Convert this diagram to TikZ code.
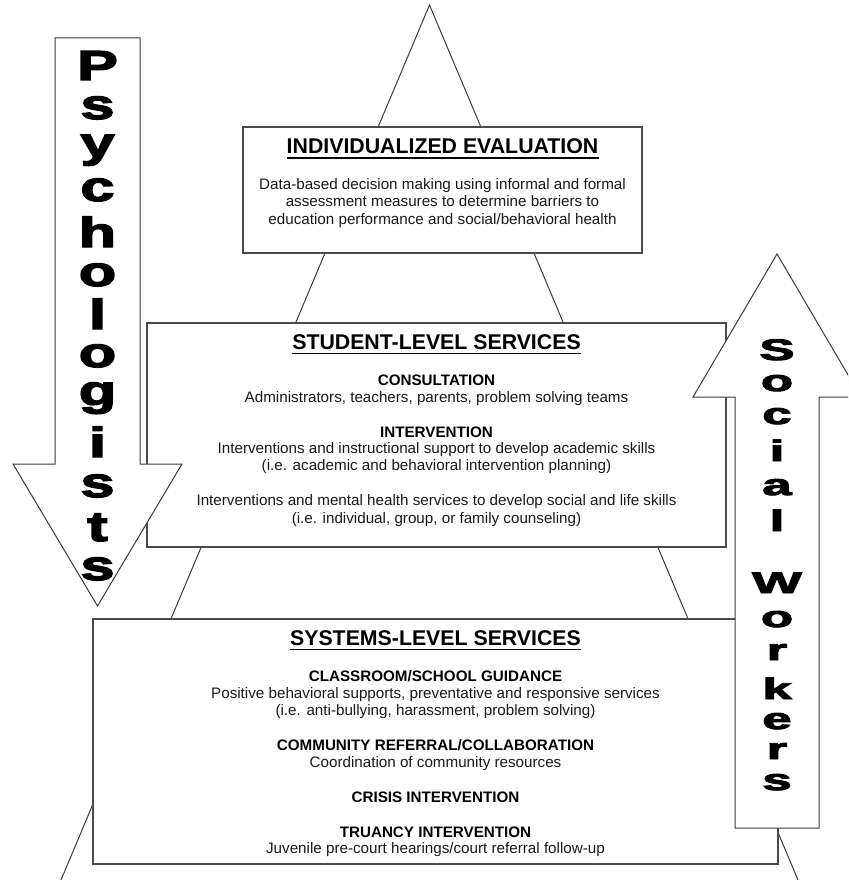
\documentclass[tikz,border=0pt]{standalone}
\usepackage{fontspec}
\setmainfont{Liberation Sans}
\newfontfamily\heavy{Liberation Sans}[UprightFont={* Bold},FakeBold=3]
\definecolor{linec}{HTML}{3A3A3A}
\definecolor{boxc}{HTML}{4A4A4A}
\definecolor{textc}{HTML}{1A1A1A}
\tikzset{
  tri/.style={draw=linec, line width=1pt},
  box/.style={draw=boxc, line width=1.3pt, fill=white, inner sep=0pt, outer sep=0pt, anchor=north west},
  arr/.style={draw=linec, line width=1pt, fill=white, line join=miter},
  ttl/.style={font=\fontsize{21.3}{25}\selectfont\bfseries, anchor=base, inner sep=0pt, text=black},
  sub/.style={font=\fontsize{15.2}{18}\selectfont\bfseries, anchor=base, inner sep=0pt, text=black},
  txt/.style={font=\fontsize{15.2}{18}\selectfont, anchor=base, inner sep=0pt, text=textc},
  bigp/.style={font=\fontsize{42}{42}\heavy, anchor=base, inner sep=0pt},
  bigs/.style={font=\fontsize{35}{35}\heavy, anchor=base, inner sep=0pt},
  uline/.style={line width=1.7pt, black}
}
\begin{document}
\begin{tikzpicture}[x=1pt,y=-1pt]
\useasboundingbox (0,0) rectangle (848,880);
\clip (0,0) rectangle (848,880);
% pyramid
\coordinate (apex) at (429.5,5);
\coordinate (bl) at (57.6,888);
\coordinate (br) at (801.4,888);
\draw[tri] (bl) -- (apex) -- (br);
% boxes
\node[box, minimum width=399pt, minimum height=126pt] (b1) at (243,127) {};
\node[box, minimum width=579pt, minimum height=224pt] (b2) at (147,323) {};
\node[box, minimum width=685pt, minimum height=245pt] (b3) at (93,619) {};
% box 1 text
\node[ttl] (t1) at (442.5,153.3) {INDIVIDUALIZED EVALUATION};
\draw[uline] ([yshift=-4.5pt]t1.base west) -- ([yshift=-4.5pt]t1.base east);
\node[txt] (t1a) at (442.5,189) {Data-based decision making using informal and formal};
\node[txt] (t1b) at (442.5,206.5) {assessment measures to determine barriers to};
\node[txt] (t1c) at (442.5,224) {education performance and social/behavioral health};
% box 2 text
\node[ttl] (t2) at (436.5,349) {STUDENT-LEVEL SERVICES};
\draw[uline] ([yshift=-4.5pt]t2.base west) -- ([yshift=-4.5pt]t2.base east);
\node[sub] (s2a) at (436.5,385) {CONSULTATION};
\node[txt] (t2a) at (436.5,402) {Administrators, teachers, parents, problem solving teams};
\node[sub] (s2b) at (436.5,437) {INTERVENTION};
\node[txt] (t2b) at (436.5,453) {Interventions and instructional support to develop academic skills};
\node[txt] (t2c) at (436.5,470.5) {(i.e. academic and behavioral intervention planning)};
\node[txt] (t2d) at (436.5,505) {Interventions and mental health services to develop social and life skills};
\node[txt] (t2e) at (436.5,523) {(i.e. individual, group, or family counseling)};
% box 3 text
\node[ttl] (t3) at (435.5,645) {SYSTEMS-LEVEL SERVICES};
\draw[uline] ([yshift=-4.5pt]t3.base west) -- ([yshift=-4.5pt]t3.base east);
\node[sub] (s3a) at (435.5,681) {CLASSROOM/SCHOOL GUIDANCE};
\node[txt] (t3a) at (435.5,698) {Positive behavioral supports, preventative and responsive services};
\node[txt] (t3b) at (435.5,715.5) {(i.e. anti-bullying, harassment, problem solving)};
\node[sub] (s3b) at (435.5,750.7) {COMMUNITY REFERRAL/COLLABORATION};
\node[txt] (t3c) at (435.5,767) {Coordination of community resources};
\node[sub] (s3c) at (435.5,802) {CRISIS INTERVENTION};
\node[sub] (s3d) at (435.5,837) {TRUANCY INTERVENTION};
\node[txt] (t3d) at (435.5,853) {Juvenile pre-court hearings/court referral follow-up};
% psychologists arrow (down)
\draw[arr] (55,38) -- (140,38) -- (140,464) -- (182,464) -- (97.5,606) -- (13,464) -- (55,464) -- cycle;
\foreach \c/\b [count=\i] in {P/80, s/119, y/157, c/201, h/247, o/286, l/329, o/367, g/405, i/457, s/497, t/541, s/580}
  \node[bigp] (p\i) at (97.5,\b) {\scalebox{1.45}[1]{\c}};
% social workers arrow (up)
\draw[arr] (735,828) -- (819,828) -- (819,397) -- (861,397) -- (777,254) -- (693,397) -- (735,397) -- cycle;
\foreach \c/\b [count=\i] in {S/360, o/391, c/424, i/461, a/495, l/531, W/593, o/627, r/660, k/699, e/729, r/759, s/790}
  \node[bigs] (w\i) at (777,\b) {\scalebox{1.5}[0.85]{\c}};
\end{tikzpicture}
\end{document}
